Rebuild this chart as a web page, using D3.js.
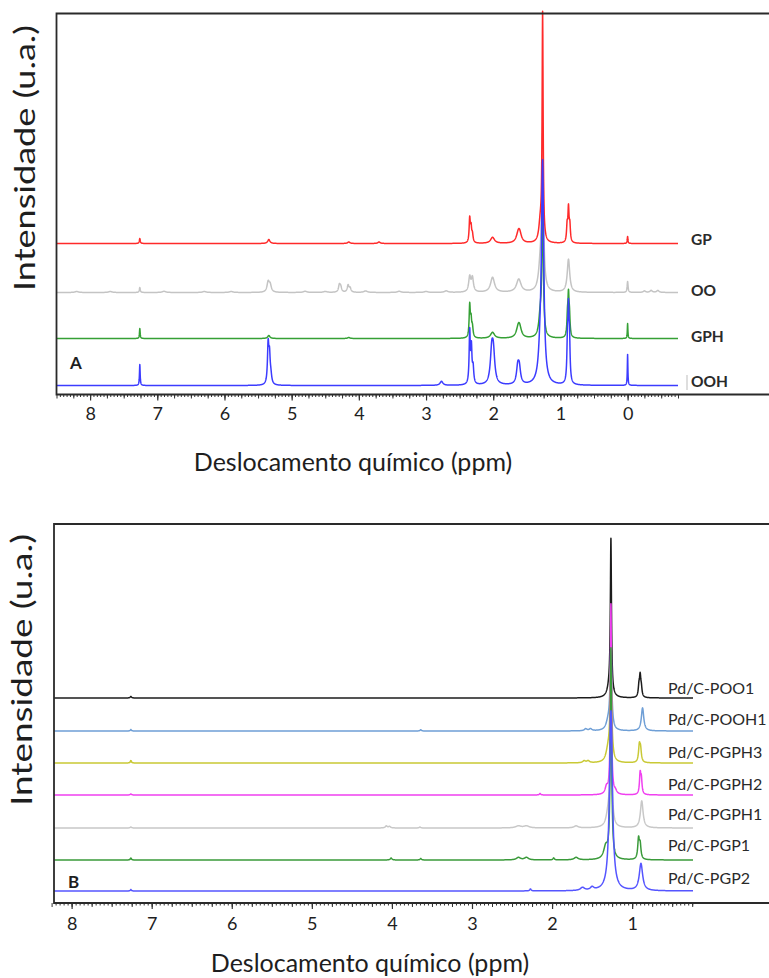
<!DOCTYPE html>
<html>
<head>
<meta charset="utf-8">
<script src="https://cdn.jsdelivr.net/npm/d3@7"></script>
<style>
  html, body { margin: 0; padding: 0; background: #fff; }
  svg { display: block; font-family: Lato, "Open Sans", sans-serif; }
</style>
</head>
<body>
<svg id="chart" width="769" height="978"></svg>
<script>
// 1H NMR spectra, stacked traces: chemical shift (ppm) vs intensity (a.u.)
// Each trace is a list of resonances: [shift ppm, height, half-width ppm]

// ---- Panel A: oils and hydrogenated products ----
const namesA = ["GP", "OO", "GPH", "OOH"];
const baselineA = [151, 102, 56, 9];          // stacking level of each trace
const ticksA = [8, 7, 6, 5, 4, 3, 2, 1, 0];

const peaksGP = [
  [7.26, 5, 0.008], [5.34, 4, 0.02], [4.15, 1.5, 0.02], [3.70, 1.5, 0.02],
  [2.35, 24, 0.01], [2.33, 14, 0.01], [2.31, 8, 0.012], [2.01, 6, 0.035],
  [1.625, 10, 0.035], [1.605, 6, 0.03], [1.30, 18, 0.025], [1.265, 226, 0.009],
  [0.90, 16, 0.01], [0.88, 33, 0.01], [0.86, 16, 0.01], [0.00, 7, 0.006]
];
const peaksOO = [
  [8.2, 1, 0.03], [7.7, 1, 0.03], [7.26, 5, 0.008], [6.9, 1.2, 0.03], [6.3, 1, 0.03],
  [5.9, 1, 0.03], [5.35, 10, 0.02], [5.32, 7, 0.02], [4.8, 1.2, 0.03], [4.5, 1, 0.03],
  [4.29, 7, 0.015], [4.27, 5, 0.015], [4.16, 7, 0.015], [4.13, 4, 0.015], [3.9, 1.5, 0.03],
  [3.4, 1.2, 0.03], [3.0, 1, 0.03], [2.7, 1.5, 0.03], [2.35, 15, 0.018], [2.31, 14, 0.018],
  [2.01, 15, 0.035], [1.62, 13, 0.04], [1.30, 22, 0.03], [1.265, 150, 0.015],
  [0.88, 33, 0.022], [0.00, 11, 0.008], [-0.25, 1.5, 0.02], [-0.35, 2, 0.02], [-0.45, 2, 0.02]
];
const peaksGPH = [
  [7.26, 10, 0.006], [5.34, 3, 0.02], [4.15, 1, 0.02], [2.35, 32, 0.01], [2.33, 16, 0.01],
  [2.31, 10, 0.012], [2.01, 6, 0.035], [1.625, 11, 0.035], [1.605, 6, 0.03], [1.30, 20, 0.025],
  [1.265, 140, 0.012], [0.895, 18, 0.01], [0.88, 38, 0.01], [0.865, 18, 0.01], [0.00, 15, 0.005]
];
const peaksOOH = [
  [7.26, 21, 0.006], [5.35, 39, 0.012], [5.33, 26, 0.012], [5.31, 8, 0.015], [2.77, 4, 0.025],
  [2.35, 52, 0.01], [2.325, 34, 0.01], [2.30, 16, 0.012], [2.022, 30, 0.025], [1.998, 28, 0.025],
  [1.635, 16, 0.022], [1.612, 15, 0.022], [1.30, 25, 0.03], [1.265, 215, 0.02],
  [0.895, 36, 0.01], [0.88, 64, 0.01], [0.865, 36, 0.01], [0.00, 31, 0.005]
];
const tracesA = [peaksGP, peaksOO, peaksGPH, peaksOOH];

// ---- Panel B: Pd/C hydrogenation products ----
const namesB = ["Pd/C-POO1", "Pd/C-POOH1", "Pd/C-PGPH3", "Pd/C-PGPH2", "Pd/C-PGPH1", "Pd/C-PGP1", "Pd/C-PGP2"];
const baselineB = [205, 172, 140, 108, 75, 43, 12];
const ticksB = [8, 7, 6, 5, 4, 3, 2, 1];

const peaksPOO1 = [
  [7.26, 1.5, 0.01], [1.28, 12, 0.03], [1.265, 150, 0.008],
  [0.915, 10, 0.01], [0.90, 20, 0.01], [0.885, 8, 0.01]
];
const peaksPOOH1 = [
  [7.26, 1.5, 0.008], [3.64, 1.2, 0.01], [1.58, 2, 0.02], [1.52, 2, 0.02],
  [1.30, 8, 0.03], [1.265, 85, 0.012], [0.87, 23, 0.018]
];
const peaksPGPH3 = [
  [7.26, 2.5, 0.008], [1.60, 2, 0.02], [1.55, 2, 0.02], [1.30, 12, 0.03],
  [1.265, 100, 0.012], [0.91, 16, 0.012], [0.895, 12, 0.012]
];
const peaksPGPH2 = [
  [7.26, 1, 0.01], [2.15, 1.5, 0.01], [1.32, 7, 0.02], [1.265, 190, 0.008],
  [1.21, 3, 0.02], [0.90, 20, 0.01], [0.885, 14, 0.01]
];
const peaksPGPH1 = [
  [7.26, 1, 0.01], [4.07, 2, 0.015], [4.03, 1.5, 0.015], [3.65, 1, 0.01], [2.42, 2, 0.04],
  [2.32, 2, 0.04], [1.70, 2, 0.03], [1.30, 12, 0.03], [1.265, 125, 0.012], [0.88, 27, 0.02]
];
const peaksPGP1 = [
  [7.26, 2, 0.008], [4.01, 2, 0.012], [3.64, 1.5, 0.01], [2.42, 2.5, 0.03], [2.32, 2.5, 0.03],
  [1.98, 2, 0.01], [1.70, 2.5, 0.03], [1.33, 12, 0.03], [1.265, 210, 0.01],
  [0.92, 20, 0.012], [0.90, 14, 0.012]
];
const peaksPGP2 = [
  [7.26, 1.5, 0.008], [2.27, 2, 0.01], [1.62, 3, 0.03], [1.50, 3, 0.025],
  [1.265, 180, 0.022], [0.89, 27, 0.025]
];
const tracesB = [peaksPOO1, peaksPOOH1, peaksPGPH3, peaksPGPH2, peaksPGPH1, peaksPGP1, peaksPGP2];

const xTitle = "Deslocamento químico (ppm)";
const yTitle = "Intensidade (u.a.)";

// ---- styles ----
const colorsA = { GP: "#ff2a2a", OO: "#c4c4c4", GPH: "#35a035", OOH: "#3c3cff" };
const drawOrderA = ["OO", "GPH", "GP", "OOH"];
const colorsB = {
  "Pd/C-POO1": "#1c1c1c", "Pd/C-POOH1": "#6f9fd6", "Pd/C-PGPH3": "#c9c935",
  "Pd/C-PGPH2": "#f040f0", "Pd/C-PGPH1": "#c8c8c8", "Pd/C-PGP1": "#3a9a3a", "Pd/C-PGP2": "#5555ff"
};
const ink = "#1e1e1e";

const svg = d3.select("#chart");

// Sum of Lorentzian lines sampled over the shift range
function spectrum(peaks, base, lo, hi) {
  const step = 0.002;
  const grid = d3.range(Math.ceil(lo / step), Math.floor(hi / step) + 1).map(i => i * step);
  peaks.forEach(p => { if (p[0] >= lo && p[0] <= hi) grid.push(p[0]); });
  grid.sort((a, b) => a - b);
  return grid.map(v => [v, base + d3.sum(peaks, ([c, h, w]) => h / (1 + ((v - c) / w) ** 2))]);
}

function panel(cfg) {
  const g = svg.append("g");
  const x = d3.scaleLinear().domain(cfg.ppm).range([cfg.left, cfg.traceEnd]);
  // intensity units: one unit per pixel of panel height
  const y = d3.scaleLinear().domain([0, cfg.bottom - cfg.frameTop]).range([cfg.bottom, cfg.frameTop]);

  // traces
  const line = d3.line().x(d => x(d[0])).y(d => y(d[1]));
  cfg.order.forEach(name => {
    const i = cfg.names.indexOf(name);
    g.append("path")
      .datum(spectrum(cfg.traces[i], cfg.baselines[i], Math.min(...cfg.ppm), Math.max(...cfg.ppm)))
      .attr("fill", "none")
      .attr("stroke", cfg.colors[name])
      .attr("stroke-width", 1.5)
      .attr("stroke-linejoin", "round")
      .attr("d", line);
  });

  // axis ticks: fine, quarter and integer marks
  const tickRange = (a, b, s) => d3.range(Math.round(a / s), Math.round(b / s) + 1).map(k => +(k * s).toFixed(3));
  const axisY = cfg.bottom;
  const fine = d3.axisBottom(x).tickValues(tickRange(cfg.tickLo, cfg.tickHi, 0.05)).tickSize(2.5).tickFormat("");
  const quarter = d3.axisBottom(x).tickValues(tickRange(cfg.tickLo, cfg.tickHi, 0.25)).tickSize(4).tickFormat("");
  const major = d3.axisBottom(x).tickValues(cfg.ticks).tickSize(6).tickPadding(cfg.labelPad).tickFormat(d3.format("d"));
  [fine, quarter].forEach(ax => {
    const a = g.append("g").attr("transform", `translate(0,${axisY})`).call(ax);
    a.select(".domain").remove();
    a.selectAll("line").attr("stroke", "#333").attr("stroke-width", 1);
  });
  const m = g.append("g").attr("transform", `translate(0,${axisY})`).call(major);
  m.select(".domain").remove();
  m.selectAll("line").attr("stroke", "#333").attr("stroke-width", 1.2);
  m.selectAll("text").attr("font-size", 18).attr("fill", ink).attr("font-family", "Lato, sans-serif");

  // frame: left, top and bottom edges
  const fr = g.append("g").attr("stroke", "#2a2a2a").attr("stroke-width", 1.8).attr("fill", "none");
  fr.append("path").attr("d", `M${cfg.frameRight},${cfg.frameTop}H${cfg.left}V${cfg.bottom}H${cfg.frameRight}`);

  // trace names
  cfg.names.forEach((name, i) => {
    g.append("text")
      .attr("x", cfg.labelX)
      .attr("y", cfg.labelY[i])
      .attr("font-size", cfg.labelSize)
      .attr("font-weight", cfg.labelWeight)
      .attr("fill", "#2a2a2a")
      .text(name);
  });

  // panel letter
  g.append("text").attr("x", cfg.letterX).attr("y", cfg.letterY)
    .attr("font-size", 17).attr("font-weight", 700).attr("fill", ink).text(cfg.letter);

  // axis titles
  g.append("text").attr("x", cfg.titleX).attr("y", cfg.titleY)
    .attr("text-anchor", "middle").attr("font-size", 25).attr("fill", ink).text(xTitle);
  g.append("text")
    .attr("transform", `translate(${cfg.yTitleX},${cfg.yTitleY}) rotate(-90)`)
    .attr("text-anchor", "middle").attr("font-size", 29).attr("fill", ink)
    .attr("textLength", cfg.yTitleLen).attr("lengthAdjust", "spacingAndGlyphs")
    .text(yTitle);
  return g;
}

const gA = panel({
  names: namesA, traces: tracesA, baselines: baselineA, colors: colorsA, order: drawOrderA,
  ppm: [8.5, -0.75], left: 56.5, traceEnd: 678, bottom: 394.5, frameTop: 13.5, frameRight: 769,
  ticks: ticksA, tickLo: -0.7, tickHi: 8.45, labelPad: 7,
  labelX: 691, labelY: [245, 296, 342, 387], labelSize: 15.5, labelWeight: 700,
  letter: "A", letterX: 70, letterY: 369,
  titleX: 353, titleY: 471, yTitleX: 35, yTitleY: 158, yTitleLen: 266
});
// thin edge line in front of the OOH name
gA.append("line").attr("x1", 687).attr("x2", 687).attr("y1", 375).attr("y2", 390)
  .attr("stroke", "#bdbdbd").attr("stroke-width", 1);

panel({
  names: namesB, traces: tracesB, baselines: baselineB, colors: colorsB, order: namesB,
  ppm: [8.22, 0.24], left: 54, traceEnd: 693, bottom: 903, frameTop: 524, frameRight: 769,
  ticks: ticksB, tickLo: 0.25, tickHi: 8.2, labelPad: 8,
  labelX: 668, labelY: [694, 725, 758, 790, 820, 851, 884], labelSize: 16, labelWeight: 400,
  letter: "B", letterX: 68, letterY: 888,
  titleX: 370, titleY: 972, yTitleX: 32, yTitleY: 670, yTitleLen: 272
});
</script>
</body>
</html>
